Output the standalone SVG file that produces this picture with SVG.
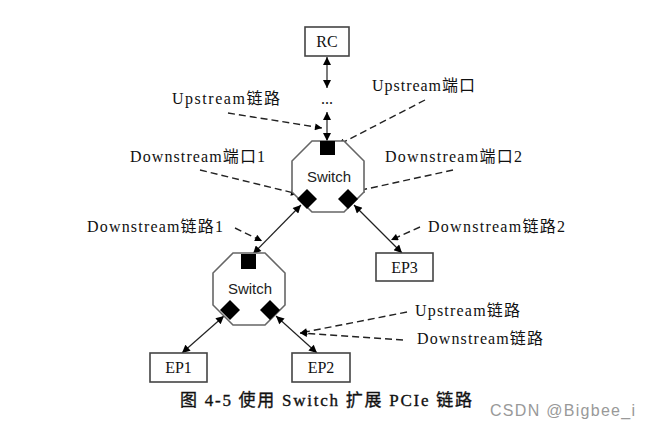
<svg xmlns="http://www.w3.org/2000/svg" width="650" height="430" viewBox="0 0 650 430">
<defs>
<marker id="ah" viewBox="0 0 10 10" refX="10" refY="5" markerWidth="10" markerHeight="8" markerUnits="userSpaceOnUse" orient="auto-start-reverse">
<path d="M0,0 L10,5 L0,10 z" fill="#000"/>
</marker>
<marker id="dh" viewBox="0 0 10 10" refX="10" refY="5" markerWidth="9" markerHeight="7" markerUnits="userSpaceOnUse" orient="auto">
<path d="M0,0 L10,5 L0,10 z" fill="#000"/>
</marker>
</defs>
<style>
.box{fill:#fff;stroke:#444;stroke-width:1.6}
.oct{fill:#fff;stroke:#666;stroke-width:1.6}
.port{fill:#000}
.lbl{font-family:"Liberation Serif","Noto Sans CJK SC",serif;font-size:16px;fill:#111}
.nt{font-family:"Liberation Serif","Noto Sans CJK SC",serif;font-size:16px;fill:#111;text-anchor:middle}
.sw{font-family:"Liberation Sans",Arial,sans-serif;font-size:15px;fill:#222;text-anchor:middle}
.solid{stroke:#222;stroke-width:1.2;fill:none;marker-start:url(#ah);marker-end:url(#ah)}
.dash{stroke:#222;stroke-width:1.4;fill:none;stroke-dasharray:7 4;marker-end:url(#dh)}
.cap{font-family:"Liberation Serif","Noto Sans CJK SC",serif;font-size:17px;fill:#111;stroke:#111;stroke-width:0.35}
.wm{font-family:"Liberation Sans",Arial,sans-serif;font-size:16px;fill:#999}
</style>
<rect width="650" height="430" fill="#fff"/>

<g id="connectors">
<line class="solid" x1="327" y1="57" x2="327" y2="88"/>
<line class="solid" x1="327" y1="112" x2="327" y2="141"/>
<line class="solid" x1="301" y1="205" x2="253" y2="254"/>
<line class="solid" x1="354" y1="205" x2="402" y2="253"/>
<line class="solid" x1="224" y1="316" x2="182" y2="353"/>
<line class="solid" x1="276" y1="316" x2="317" y2="353"/>
<line class="dash" x1="228" y1="113" x2="322" y2="128"/>
<line class="dash" x1="425" y1="100" x2="338" y2="145"/>
<line class="dash" x1="200" y1="170" x2="298" y2="194"/>
<line class="dash" x1="453" y1="170" x2="357" y2="191"/>
<line class="dash" x1="235" y1="228" x2="262" y2="241"/>
<line class="dash" x1="420" y1="227" x2="391" y2="240"/>
<line class="dash" x1="407" y1="312" x2="300" y2="333"/>
<line class="dash" x1="403" y1="340" x2="300" y2="333"/>
</g>

<g id="rc">
<rect class="box" x="305" y="27" width="44" height="29"/>
<text class="nt" x="327" y="47">RC</text>
</g>
<text class="nt" x="327" y="104">...</text>

<g id="switch1">
<polygon class="oct" points="312,141 344,141 364,161 364,192 344,212 312,212 292,192 292,161"/>
<text class="sw" x="329" y="182">Switch</text>
<rect class="port" x="320" y="141" width="15" height="14"/>
<polygon class="port" points="307,189 317,199 307,209 297,199"/>
<polygon class="port" points="348,189 358,199 348,209 338,199"/>
</g>

<g id="switch2">
<polygon class="oct" points="233,253 265,253 285,273 285,305 265,325 233,325 213,305 213,273"/>
<text class="sw" x="250" y="294">Switch</text>
<rect class="port" x="241" y="254" width="15" height="15"/>
<polygon class="port" points="230,300 240,310 230,320 220,310"/>
<polygon class="port" points="270,300 280,310 270,320 260,310"/>
</g>

<g id="ep3">
<rect class="box" x="376" y="253" width="57" height="28"/>
<text class="nt" x="404.5" y="273">EP3</text>
</g>
<g id="ep1">
<rect class="box" x="150" y="353" width="57" height="29"/>
<text class="nt" x="178.5" y="373">EP1</text>
</g>
<g id="ep2">
<rect class="box" x="292" y="353" width="58" height="29"/>
<text class="nt" x="321" y="373">EP2</text>
</g>

<g id="labels">
<text class="lbl" x="172" y="104" textLength="108" lengthAdjust="spacing">Upstream链路</text>
<text class="lbl" x="372" y="91" textLength="103" lengthAdjust="spacing">Upstream端口</text>
<text class="lbl" x="130" y="162" textLength="135" lengthAdjust="spacing">Downstream端口1</text>
<text class="lbl" x="385" y="162" textLength="137" lengthAdjust="spacing">Downstream端口2</text>
<text class="lbl" x="87" y="232" textLength="136" lengthAdjust="spacing">Downstream链路1</text>
<text class="lbl" x="428" y="232" textLength="137" lengthAdjust="spacing">Downstream链路2</text>
<text class="lbl" x="415" y="316" textLength="105" lengthAdjust="spacing">Upstream链路</text>
<text class="lbl" x="417" y="344" textLength="126" lengthAdjust="spacing">Downstream链路</text>
</g>

<text class="cap" x="180" y="406" textLength="292" lengthAdjust="spacing">图 4-5 使用 Switch 扩展 PCIe 链路</text>
<text class="wm" x="490" y="416" textLength="145" lengthAdjust="spacing">CSDN @Bigbee_i</text>
</svg>
